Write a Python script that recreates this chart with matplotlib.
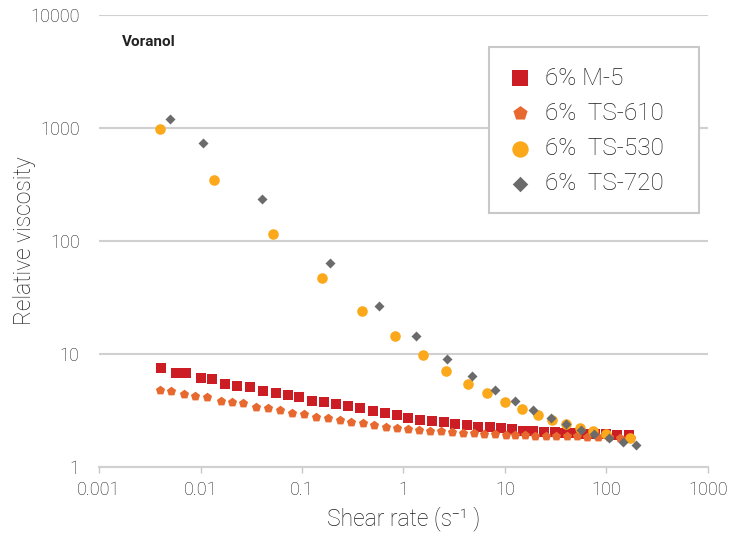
import matplotlib
matplotlib.use("Agg")
import matplotlib.pyplot as plt
from matplotlib.patches import Rectangle
from matplotlib.ticker import FixedLocator, NullLocator

plt.rcParams['font.family'] = ['Roboto', 'DejaVu Sans']

# 6% M-5
m5_x = [0.0041, 0.0057, 0.0072, 0.0102, 0.0131, 0.0176, 0.023, 0.031, 0.0415, 0.055,
        0.073, 0.094, 0.126, 0.166, 0.218, 0.286, 0.375, 0.504, 0.661, 0.869, 1.11,
        1.47, 1.93, 2.52, 3.24, 4.26, 5.48, 7.05, 9.1, 11.7, 15.1, 18.9, 24.3, 31, 39,
        49.5, 62, 77, 100, 128, 165]
m5_y = [7.6, 6.75, 6.75, 6.1, 5.97, 5.5, 5.28, 5.07, 4.68, 4.49,
        4.31, 4.14, 3.89, 3.74, 3.59, 3.45, 3.31, 3.17, 2.99, 2.87, 2.75,
        2.64, 2.55, 2.49, 2.39, 2.34, 2.29, 2.25, 2.2, 2.16, 2.11, 2.07, 2.05, 2.03, 2.0,
        1.99, 1.97, 1.96, 1.95, 1.93, 1.91]

# 6% TS-610
ts610_x = [0.004, 0.0051, 0.0069, 0.0089, 0.0116, 0.0158, 0.0205, 0.0265, 0.0355, 0.0465,
           0.061, 0.080, 0.105, 0.137, 0.179, 0.235, 0.306, 0.397, 0.517, 0.67, 0.869, 1.11,
           1.41, 1.83, 2.36, 3.0, 3.83, 4.9, 6.25, 8.0, 10.2, 12.6, 15.8, 19.9, 25.3, 31.8,
           40.5, 51.5, 65, 83, 105, 135, 173]
ts610_y = [4.8, 4.71, 4.4, 4.25, 4.16, 3.89, 3.74, 3.66, 3.4, 3.31,
           3.19, 3.02, 2.93, 2.77, 2.7, 2.61, 2.52, 2.44, 2.35, 2.29, 2.21, 2.17,
           2.13, 2.1, 2.07, 2.04, 2.01, 1.99, 1.96, 1.95, 1.93, 1.92, 1.91, 1.89, 1.88, 1.88,
           1.87, 1.87, 1.85, 1.85, 1.84, 1.83, 1.81]

# 6% TS-530
ts530_x = [0.004, 0.0136, 0.0518, 0.157, 0.39, 0.82, 1.55, 2.65, 4.3, 6.7, 10.1, 14.7,
           21.0, 29, 40, 55, 73, 99, 170]
ts530_y = [980, 350, 116, 47, 24, 14.4, 9.9, 7.1, 5.5, 4.5, 3.8, 3.26,
           2.9, 2.6, 2.4, 2.23, 2.1, 1.95, 1.8]

# 6% TS-720
ts720_x = [0.005, 0.0105, 0.0406, 0.187, 0.57, 1.33, 2.68, 4.77, 7.96, 12.6, 19, 28.2,
           40, 56, 75, 105, 144, 195]
ts720_y = [1200, 740, 236, 64, 26.8, 14.6, 9.1, 6.4, 4.83, 3.84, 3.19, 2.71,
           2.42, 2.15, 1.95, 1.8, 1.68, 1.58]

fig = plt.figure(figsize=(7.39, 5.37), dpi=100)
ax = fig.add_axes([0.134, 0.130, 0.824, 0.842])

ax.scatter(m5_x, m5_y, marker='s', s=56, color='#CC1D24', linewidths=0, label='6% M-5', zorder=3)
ax.scatter(ts610_x, ts610_y, marker='p', s=48, color='#E8692F', linewidths=0, label='6%  TS-610', zorder=3)
ax.scatter(ts530_x, ts530_y, marker='o', s=58, color='#FBA81A', linewidths=0, label='6%  TS-530', zorder=3)
ax.scatter(ts720_x, ts720_y, marker='D', s=26, color='#6B6B6B', linewidths=0, label='6%  TS-720', zorder=4)

ax.set_xscale('log')
ax.set_yscale('log')
ax.set_xlim(0.001, 1000)
ax.set_ylim(1, 10000)

xt = [0.001, 0.01, 0.1, 1, 10, 100, 1000]
yt = [1, 10, 100, 1000, 10000]
ax.xaxis.set_major_locator(FixedLocator(xt))
ax.yaxis.set_major_locator(FixedLocator(yt))
ax.xaxis.set_minor_locator(NullLocator())
ax.yaxis.set_minor_locator(NullLocator())
ax.set_xticklabels(['0.001', '0.01', '0.1', '1', '10', '100', '1000'])
ax.set_yticklabels(['1', '10', '100', '1000', '10000'])

ax.grid(axis='y', color='#D0D0D0', linewidth=1.5)
ax.set_axisbelow(True)
for side in ['top', 'right', 'left']:
    ax.spines[side].set_visible(False)
ax.spines['bottom'].set_color('#D0D0D0')
ax.spines['bottom'].set_linewidth(1.5)
ax.tick_params(axis='x', colors='#C8C8C8', length=4, width=1, labelcolor='#1E1E1E',
               labelsize=13, pad=6)
ax.tick_params(axis='y', length=0, labelcolor='#1E1E1E', labelsize=13, pad=14)
for lab in ax.get_xticklabels() + ax.get_yticklabels():
    lab.set_fontweight('light')

ax.set_xlabel('Shear rate (s\u207b\u00b9 )', fontsize=16.5, color='#1E1E1E', fontweight='light', labelpad=5)
ax.set_ylabel('Relative viscosity', fontsize=16.5, color='#1E1E1E', fontweight='light', labelpad=-4)

ax.text(0.038, 0.955, 'Voranol', transform=ax.transAxes, fontsize=11, fontweight='bold',
        color='#222222', va='top', ha='left')

# legend box is wider on the right than matplotlib's symmetric padding, so draw the frame separately
box = Rectangle((0.640, 0.562), 0.345, 0.367, transform=ax.transAxes, facecolor='white',
                edgecolor='#C8C8C8', linewidth=1.5, zorder=5)
ax.add_patch(box)
leg = ax.legend(loc='upper left', bbox_to_anchor=(0.640, 0.929), fontsize=17.5,
                frameon=False, borderpad=0.8, handlelength=1.0, handletextpad=0.5,
                labelspacing=0.5, scatterpoints=1, markerscale=1.55, borderaxespad=0)
leg.set_zorder(6)
for t in leg.get_texts():
    t.set_color('#1E1E1E')
    t.set_fontweight('light')

fig.savefig('out.png', dpi=100)
